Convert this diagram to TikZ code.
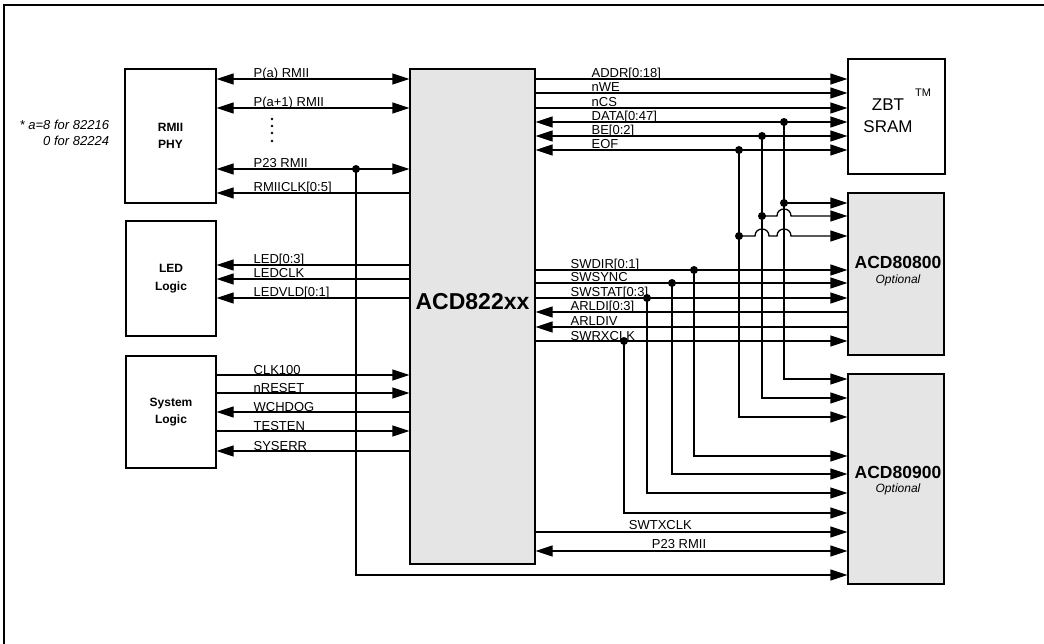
\documentclass[tikz,border=0pt]{standalone}
\usepackage{fontspec}
\setmainfont{Liberation Sans}
\usetikzlibrary{arrows.meta}

\begin{document}
\begin{tikzpicture}
  [x=1pt,y=-1pt,line width=1.3pt,font=\fontsize{13}{15}\selectfont]
 \tikzset{box/.style = {draw,line width=1.3pt,inner sep=0pt,align=center,
            font=\fontsize{12}{17.5}\selectfont\bfseries},
          chip/.style = {box,fill=black!10},
          sig/.style = {anchor=base west,inner sep=0pt},
          tip/.tip = {Triangle[length=17pt,width=11pt]},
          edge/.style = {-tip},
          bus/.style = {tip-tip},
          back/.style = {tip-}}
  \useasboundingbox (0,0) rectangle (1044,644);
  \draw[line width=2pt] (4,644) -- (4,5.5) -- (1044,5.5);

  % blocks
  \node[box,minimum width=91pt,minimum height=134pt] (phy) at (170.5,136) {RMII\\PHY};
  \node[box,minimum width=90pt,minimum height=115pt] (led) at (171,278.5) {LED\\Logic};
  \node[box,minimum width=90pt,minimum height=112pt] (sys) at (171,412) {System\\Logic};
  \node[chip,minimum width=125pt,minimum height=495pt] (acd) at (472.5,316.5) {};
  \node[font=\fontsize{23}{27}\selectfont\bfseries] (acdname) at (472.5,302) {ACD822xx};
  \node[box,minimum width=97pt,minimum height=115pt] (sram) at (896.5,116.5) {};
  \node[align=center,font=\fontsize{17}{22}\selectfont] (sramname) at (888,116) {ZBT\\SRAM};
  \node[font=\fontsize{11}{13}\selectfont] (tm) at (923,93) {TM};
  \node[chip,minimum width=96pt,minimum height=162pt] (sw8) at (896,274) {};
  \node[font=\fontsize{17.5}{20}\selectfont\bfseries] (sw8name) at (898,262) {ACD80800};
  \node[font=\fontsize{12}{14}\selectfont\itshape] (sw8opt) at (898,280) {Optional};
  \node[chip,minimum width=96pt,minimum height=210pt] (sw9) at (896,479) {};
  \node[font=\fontsize{17.5}{20}\selectfont\bfseries] (sw9name) at (898,472) {ACD80900};
  \node[font=\fontsize{12}{14}\selectfont\itshape] (sw9opt) at (898,489) {Optional};
  \node[align=right,anchor=east,font=\fontsize{13}{16}\selectfont\itshape] (note) at (113,133)
    {* a=8 for 82216\\0 for 82224};

  % left side
  \foreach \y/\txt/\dir in {79/P(a) RMII/bus,108/P(a+1) RMII/bus,169/P23 RMII/bus,193/RMIICLK[0:5]/back}
    {\draw[\dir] (phy.east |- 0,\y) -- (acd.west |- 0,\y);
     \node[sig] (pl\y) at (253,\y-1) {\txt};}
  \foreach \y in {119,126,133,141}
    \fill (272,\y) circle (1.4);
  \foreach \y/\txt/\dir in {265/LED[0:3]/back,279/LEDCLK/back,298/LEDVLD[0:1]/back}
    {\draw[\dir] (led.east |- 0,\y) -- (acd.west |- 0,\y);
     \node[sig] (ll\y) at (253,\y-1) {\txt};}
  \foreach \y/\txt/\dir in {375/CLK100/edge,393/nRESET/edge,412/WCHDOG/back,431/TESTEN/edge,451/SYSERR/back}
    {\draw[\dir] (sys.east |- 0,\y) -- (acd.west |- 0,\y);
     \node[sig] (sl\y) at (253,\y-1) {\txt};}

  % right side
  \foreach \y/\txt/\dir in {79/ADDR[0:18]/edge,93/nWE/edge,108/nCS/edge,122/DATA[0:47]/bus,136/BE[0:2]/bus,150/EOF/bus}
    {\draw[\dir] (acd.east |- 0,\y) -- (sram.west |- 0,\y);
     \node[sig] (rl\y) at (591,\y-1) {\txt};}
  \foreach \y/\txt/\dir in {270/SWDIR[0:1]/edge,283/SWSYNC/edge,298/SWSTAT[0:3]/edge,312/ARLDI[0:3]/back,327/ARLDIV/back,341/SWRXCLK/edge}
    {\draw[\dir] (acd.east |- 0,\y) -- (sw8.west |- 0,\y);
     \node[sig] (ml\y) at (570,\y-1) {\txt};}
  \draw[edge] (acd.east |- 0,532) -- (sw9.west |- 0,532)
    node[pos=0.4,above=1pt,inner sep=1pt] (txclk) {SWTXCLK};
  \draw[bus] (acd.east |- 0,551) -- (sw9.west |- 0,551)
    node[pos=0.46,above=1pt,inner sep=1pt] (p23r) {P23 RMII};

  % taps
  \coordinate (jdata) at (784,122);
  \coordinate (jbe) at (762,136);
  \coordinate (jeof) at (739,150);
  \coordinate (jdata8) at (784,203);
  \coordinate (jbe8) at (762,216);
  \coordinate (jeof8) at (739,236);
  \coordinate (jdir) at (694,270);
  \coordinate (jsync) at (672,283);
  \coordinate (jstat) at (647,298);
  \coordinate (jrx) at (624,341);
  \coordinate (jp23) at (356,169);

  \foreach \from/\y in {jdata/379,jbe/398,jeof/417,jdir/456,jsync/474,jstat/493,jrx/513,jp23/575}
    \draw[edge] (\from) |- (sw9.west |- 0,\y);
  \draw[edge] (jdata8) -- (sw8.west |- jdata8);
  \draw[edge] (jbe8) -- (777,216) .. controls (777,206.7) and (791,206.7) .. (791,216)
    -- (sw8.west |- jbe8);
  \draw[edge] (jeof8) -- (755,236) .. controls (755,226.7) and (769,226.7) .. (769,236)
    -- (777,236) .. controls (777,226.7) and (791,226.7) .. (791,236) -- (sw8.west |- jeof8);

  \foreach \j in {jdata,jbe,jeof,jdata8,jbe8,jeof8,jdir,jsync,jstat,jrx,jp23}
    \fill (\j) circle (4);

\end{tikzpicture}
\end{document}
